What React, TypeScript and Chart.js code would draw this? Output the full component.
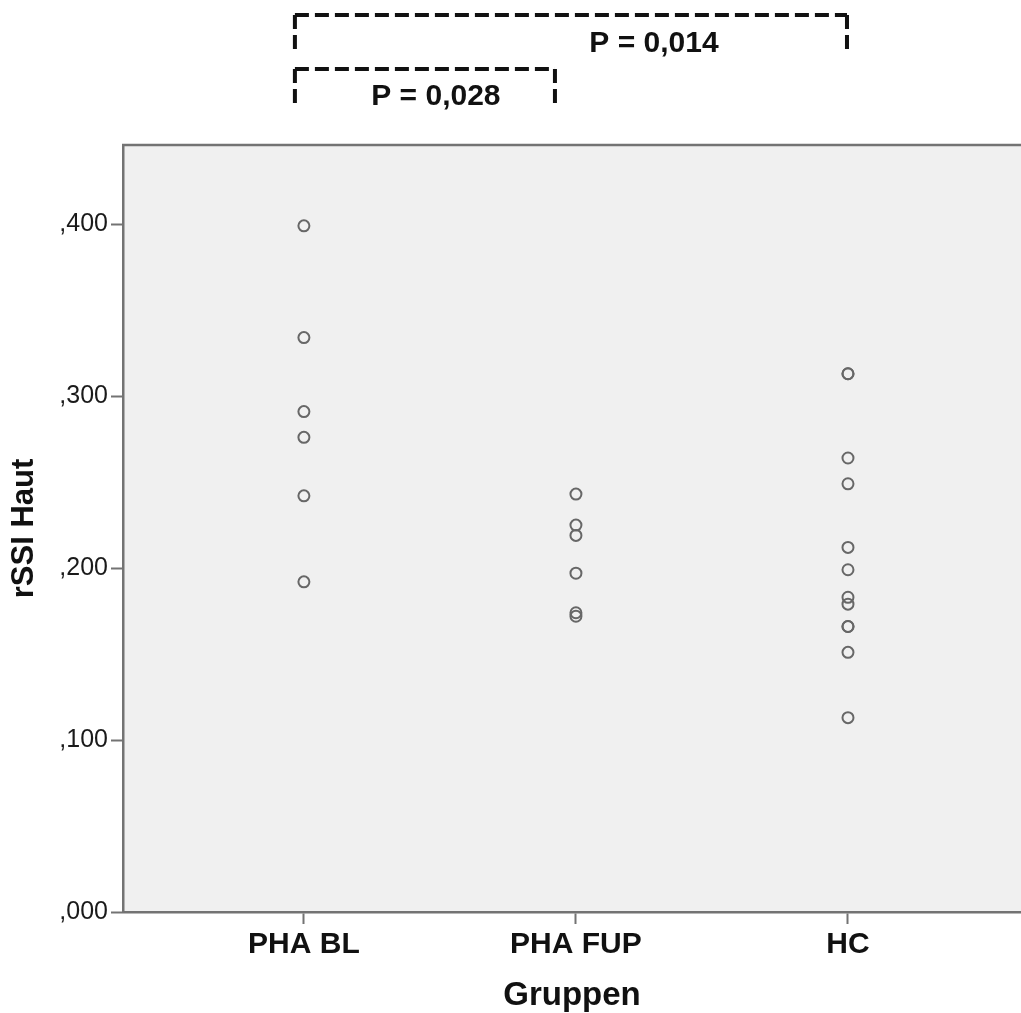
import React, { useEffect, useRef } from "react";
import { Chart, registerables } from "chart.js";

Chart.register(...registerables);

const categories = ["PHA BL", "PHA FUP", "HC"];
const phaBL = [0.399, 0.334, 0.291, 0.276, 0.242, 0.192];
const phaFUP = [0.243, 0.225, 0.219, 0.197, 0.174, 0.172];
const hc = [0.313, 0.313, 0.264, 0.249, 0.212, 0.199, 0.183, 0.179, 0.166, 0.166, 0.151, 0.113];
const yTicks = [0, 0.1, 0.2, 0.3, 0.4];
const pLabels = ["P = 0,028", "P = 0,014"];

const FONT = "'Liberation Sans', Arial, sans-serif";
const AXIS_GREY = "#737373";

const bgPlugin = {
  id: "bgPlugin",
  beforeDraw(chart: any) {
    const { ctx, chartArea } = chart;
    ctx.save();
    ctx.fillStyle = "#f0f0f0";
    ctx.fillRect(chartArea.left, chartArea.top, chartArea.right - chartArea.left, chartArea.bottom - chartArea.top);
    ctx.restore();
  },
  afterDraw(chart: any) {
    const { ctx, chartArea, scales } = chart;
    ctx.save();
    // top border
    ctx.strokeStyle = AXIS_GREY;
    ctx.lineWidth = 2.5;
    ctx.beginPath();
    ctx.moveTo(chartArea.left - 1, chartArea.top);
    ctx.lineTo(chart.width, chartArea.top);
    ctx.stroke();

    // significance brackets
    const x0 = scales.x.getPixelForValue(0);
    const x1 = scales.x.getPixelForValue(1);
    const x2 = scales.x.getPixelForValue(2);
    ctx.strokeStyle = "#111";
    ctx.lineWidth = 4;
    ctx.setLineDash([14, 6]);
    const bracket = (l: number, r: number, top: number, bottom: number) => {
      ctx.beginPath();
      ctx.moveTo(l, top);
      ctx.lineTo(r, top);
      ctx.stroke();
      ctx.beginPath();
      ctx.moveTo(l, top);
      ctx.lineTo(l, bottom);
      ctx.stroke();
      ctx.beginPath();
      ctx.moveTo(r, top);
      ctx.lineTo(r, bottom);
      ctx.stroke();
    };
    bracket(x0 - 9, x2 - 1, 15, 53);
    bracket(x0 - 9, x1 - 21, 69, 107);
    ctx.setLineDash([]);
    ctx.fillStyle = "#111";
    ctx.font = `bold 30px ${FONT}`;
    ctx.textAlign = "center";
    ctx.textBaseline = "middle";
    ctx.fillText(pLabels[0], x0 + 132, 97);
    ctx.fillText(pLabels[1], x1 + 78, 44);
    ctx.restore();
  },
};

const pointStyle = {
  showLine: false,
  pointRadius: 5.5,
  pointHoverRadius: 5.5,
  pointBorderWidth: 2,
  pointBorderColor: "#676767",
  pointBackgroundColor: "rgba(0,0,0,0)",
  borderColor: "#676767",
  backgroundColor: "rgba(0,0,0,0)",
};

export default function App() {
  const ref = useRef<HTMLCanvasElement | null>(null);

  useEffect(() => {
    if (!ref.current) return;
    const series = [phaBL, phaFUP, hc];
    const chart = new Chart(ref.current, {
      type: "scatter",
      data: {
        datasets: series.map((vals, i) => ({
          label: categories[i],
          data: vals.map((v) => ({ x: i, y: v })),
          ...pointStyle,
        })),
      },
      plugins: [bgPlugin],
      options: {
        responsive: false,
        animation: false,
        events: [],
        layout: { autoPadding: false, padding: { top: 145, right: 0, left: 0, bottom: 0 } },
        plugins: { legend: { display: false }, tooltip: { enabled: false } },
        scales: {
          x: {
            type: "linear",
            min: -0.665,
            max: 2.636,
            afterBuildTicks: (scale: any) => {
              scale.ticks = categories.map((_, i) => ({ value: i }));
            },
            afterFit: (scale: any) => {
              scale.height = 101;
              scale.paddingLeft = 0;
              scale.paddingRight = 0;
            },
            ticks: {
              callback: (v: any) => categories[Number(v)] ?? "",
              font: { family: FONT, size: 30, weight: "bold" },
              color: "#111",
              padding: 3,
              maxRotation: 0,
              autoSkip: false,
            },
            grid: {
              drawOnChartArea: false,
              drawTicks: true,
              tickLength: 12,
              tickWidth: 2,
              tickColor: AXIS_GREY,
            },
            border: { color: AXIS_GREY, width: 2.5 },
            title: {
              display: true,
              text: "Gruppen",
              font: { family: FONT, size: 33, weight: "bold", lineHeight: 1 },
              color: "#111",
              padding: { top: 0, bottom: 1 },
            },
          },
          y: {
            type: "linear",
            min: 0,
            max: 0.446,
            afterBuildTicks: (scale: any) => {
              scale.ticks = yTicks.map((v) => ({ value: v }));
            },
            afterFit: (scale: any) => {
              scale.width = 123;
              scale.paddingTop = 0;
              scale.paddingBottom = 0;
            },
            ticks: {
              callback: (v: any) => "," + String(Math.round(Number(v) * 1000)).padStart(3, "0"),
              font: { family: FONT, size: 25 },
              color: "#1a1a1a",
              padding: 3,
            },
            grid: {
              drawOnChartArea: false,
              drawTicks: true,
              tickLength: 12,
              tickWidth: 2,
              tickColor: AXIS_GREY,
            },
            border: { color: AXIS_GREY, width: 2.5 },
            title: {
              display: true,
              text: "rSSI Haut",
              font: { family: FONT, size: 31, weight: "bold", lineHeight: 1 },
              color: "#111",
              padding: { top: 9, bottom: 0 },
            },
          },
        },
      },
    });
    return () => chart.destroy();
  }, []);

  return (
    <div style={{ position: "absolute", left: 0, top: 0, width: 1021, height: 1013, background: "#fff" }}>
      <canvas ref={ref} width={1021} height={1013} style={{ display: "block" }} />
    </div>
  );
}
